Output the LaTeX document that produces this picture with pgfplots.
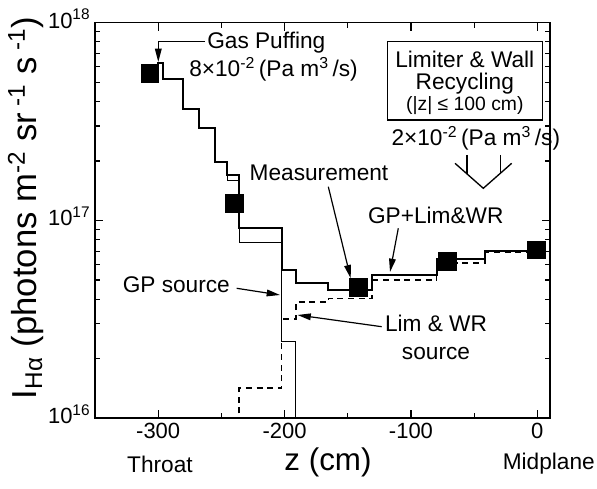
\documentclass[border=0pt]{standalone}
\usepackage{fontspec}
\setmainfont{Liberation Sans}
\usepackage{pgfplots}
\usepackage{pgfplotstable}
\pgfplotsset{compat=1.18}
\usetikzlibrary{arrows.meta}

% Step profiles of the H-alpha brightness along z
\pgfplotstableread{
z I
-300 5.5e17
-300 6.24e17
-296 5.18e17
-280.6 3.65e17
-267.5 2.94e17
-255.1 1.98e17
-245.3 1.69e17
-235.9 9.14e16
-202.3 5.62e16
-191.0 4.82e16
-165.4 4.46e16
-131.0 5.30e16
-79.7 6.37e16
-41.4 7.03e16
6 7.03e16
}\totalprofile

\pgfplotstableread{
z I
-300 5.5e17
-300 6.24e17
-296 5.18e17
-280.6 3.65e17
-267.5 2.94e17
-255.1 1.98e17
-245.3 1.60e17
-235.9 7.74e16
-202.3 2.44e16
-191.0 1e15
}\gpsource

\pgfplotstableread{
z I
-235.9 1e15
-235.9 1.42e16
-202.3 3.18e16
-191.0 3.87e16
-165.4 4.04e16
-131.0 5.00e16
-79.7 6.08e16
-41.4 6.90e16
6 6.90e16
}\limwr

\pgfplotstableread{
z I
-306.9 5.55e17
-239.8 1.22e17
-141.8 4.60e16
-71.3 6.22e16
-0.9 7.13e16
}\measured

\newcommand\annfont{\fontsize{17}{17}\selectfont}

\begin{document}
\begin{tikzpicture}
\begin{axis}[
  at={(0,0)}, anchor=south west,
  scale only axis, width=341.25pt, height=296.7pt,
  xmin=-350, xmax=10,
  ymode=log, ymin=1e16, ymax=1e18,
  xtick={-300,-200,-100,0},
  xticklabels={-300,-200,-100,0},
  minor xtick={-250,-150,-50},
  ytick={1e16,1e17,1e18},
  yticklabels={10\textsuperscript{16},10\textsuperscript{17},10\textsuperscript{18}},
  minor ytick={2e16,3e16,4e16,5e16,6e16,7e16,8e16,9e16,2e17,3e17,4e17,5e17,6e17,7e17,8e17,9e17},
  tick pos=both,
  tick align=inside,
  major tick length=6pt,
  minor tick length=4pt,
  every tick/.style={black, line width=0.9pt},
  axis line style={line width=1.2pt},
  ticklabel style={font=\fontsize{16.5}{16.5}\selectfont},
  yticklabel style={yshift=3pt},
]
\addplot[const plot, black, line width=0.7pt] table[x=z, y=I] {\gpsource};
\addplot[const plot, black, line width=1.1pt, dash pattern=on 4.5pt off 3.5pt] table[x=z, y=I] {\limwr};
\addplot[const plot, black, line width=1.5pt] table[x=z, y=I] {\totalprofile};
\addplot[only marks, mark=square*, mark size=6.5pt, black] table[x=z, y=I] {\measured};
\end{axis}

% annotations, in a frame whose unit is 0.75pt with y pointing down
\begin{scope}[shift={(-71.25pt,313.725pt)}, x=0.75pt, y=-0.75pt,
  every node/.style={font=\annfont, inner sep=0pt},
  arr/.style={line width=0.9pt, -{Triangle[length=10pt, width=5pt]}}]
  \node[rotate=90] at (26,208) {\fontsize{26}{26}\selectfont I\textsubscript{H\hspace{0.5pt}α} (photons m\textsuperscript{-2} sr\textsuperscript{ -1} s\textsuperscript{ -1})};
  \node at (328,462) {\fontsize{23.5}{23.5}\selectfont z (cm)};
  \node at (160,464) {Throat};
  \node[anchor=east] at (595,464) {Midplane};

  \node[anchor=west] at (207,43) {Gas Puffing};
  \node[anchor=west] at (189,69) {8×10\textsuperscript{-2}\,(Pa m\textsuperscript{3}\,/s)};
  \draw[arr] (205,41.7) -- (158.3,41.7) -- (158.3,62);

  \draw[line width=1pt] (387.3,41.7) rectangle (542.3,120);
  \node at (464.8,59.3) {Limiter \& Wall};
  \node at (464.8,83.3) {Recycling};
  \node at (464.8,106) {\fontsize{14.5}{14.5}\selectfont (|z| ≤ 100 cm)};
  \node at (475.8,138.3) {2×10\textsuperscript{-2}\,(Pa m\textsuperscript{3}\,/s)};
  \draw[line width=1pt] (455,163.3) -- (483.3,188.3) -- (511.7,163.3);
  \draw[line width=1pt] (467,155) -- (467,173.9);
  \draw[line width=1pt] (500.5,155) -- (500.5,173.2);

  \node at (319,173) {Measurement};
  \draw[arr] (328.3,186.7) -- (350.7,278.3);
  \node at (435.8,215) {GP+Lim\&WR};
  \draw[arr] (398.3,228.3) -- (390,272);
  \node at (176.3,285) {GP source};
  \draw[arr] (236.7,288.3) -- (280,295);
  \node[align=center] at (436,337.5) {Lim \& WR\\[4pt]source};
  \draw[arr] (381.7,326.7) -- (297.5,315);

  \pgfresetboundingbox
  \path[use as bounding box] (0,0) rectangle (597,489);
\end{scope}
\end{tikzpicture}
\end{document}
